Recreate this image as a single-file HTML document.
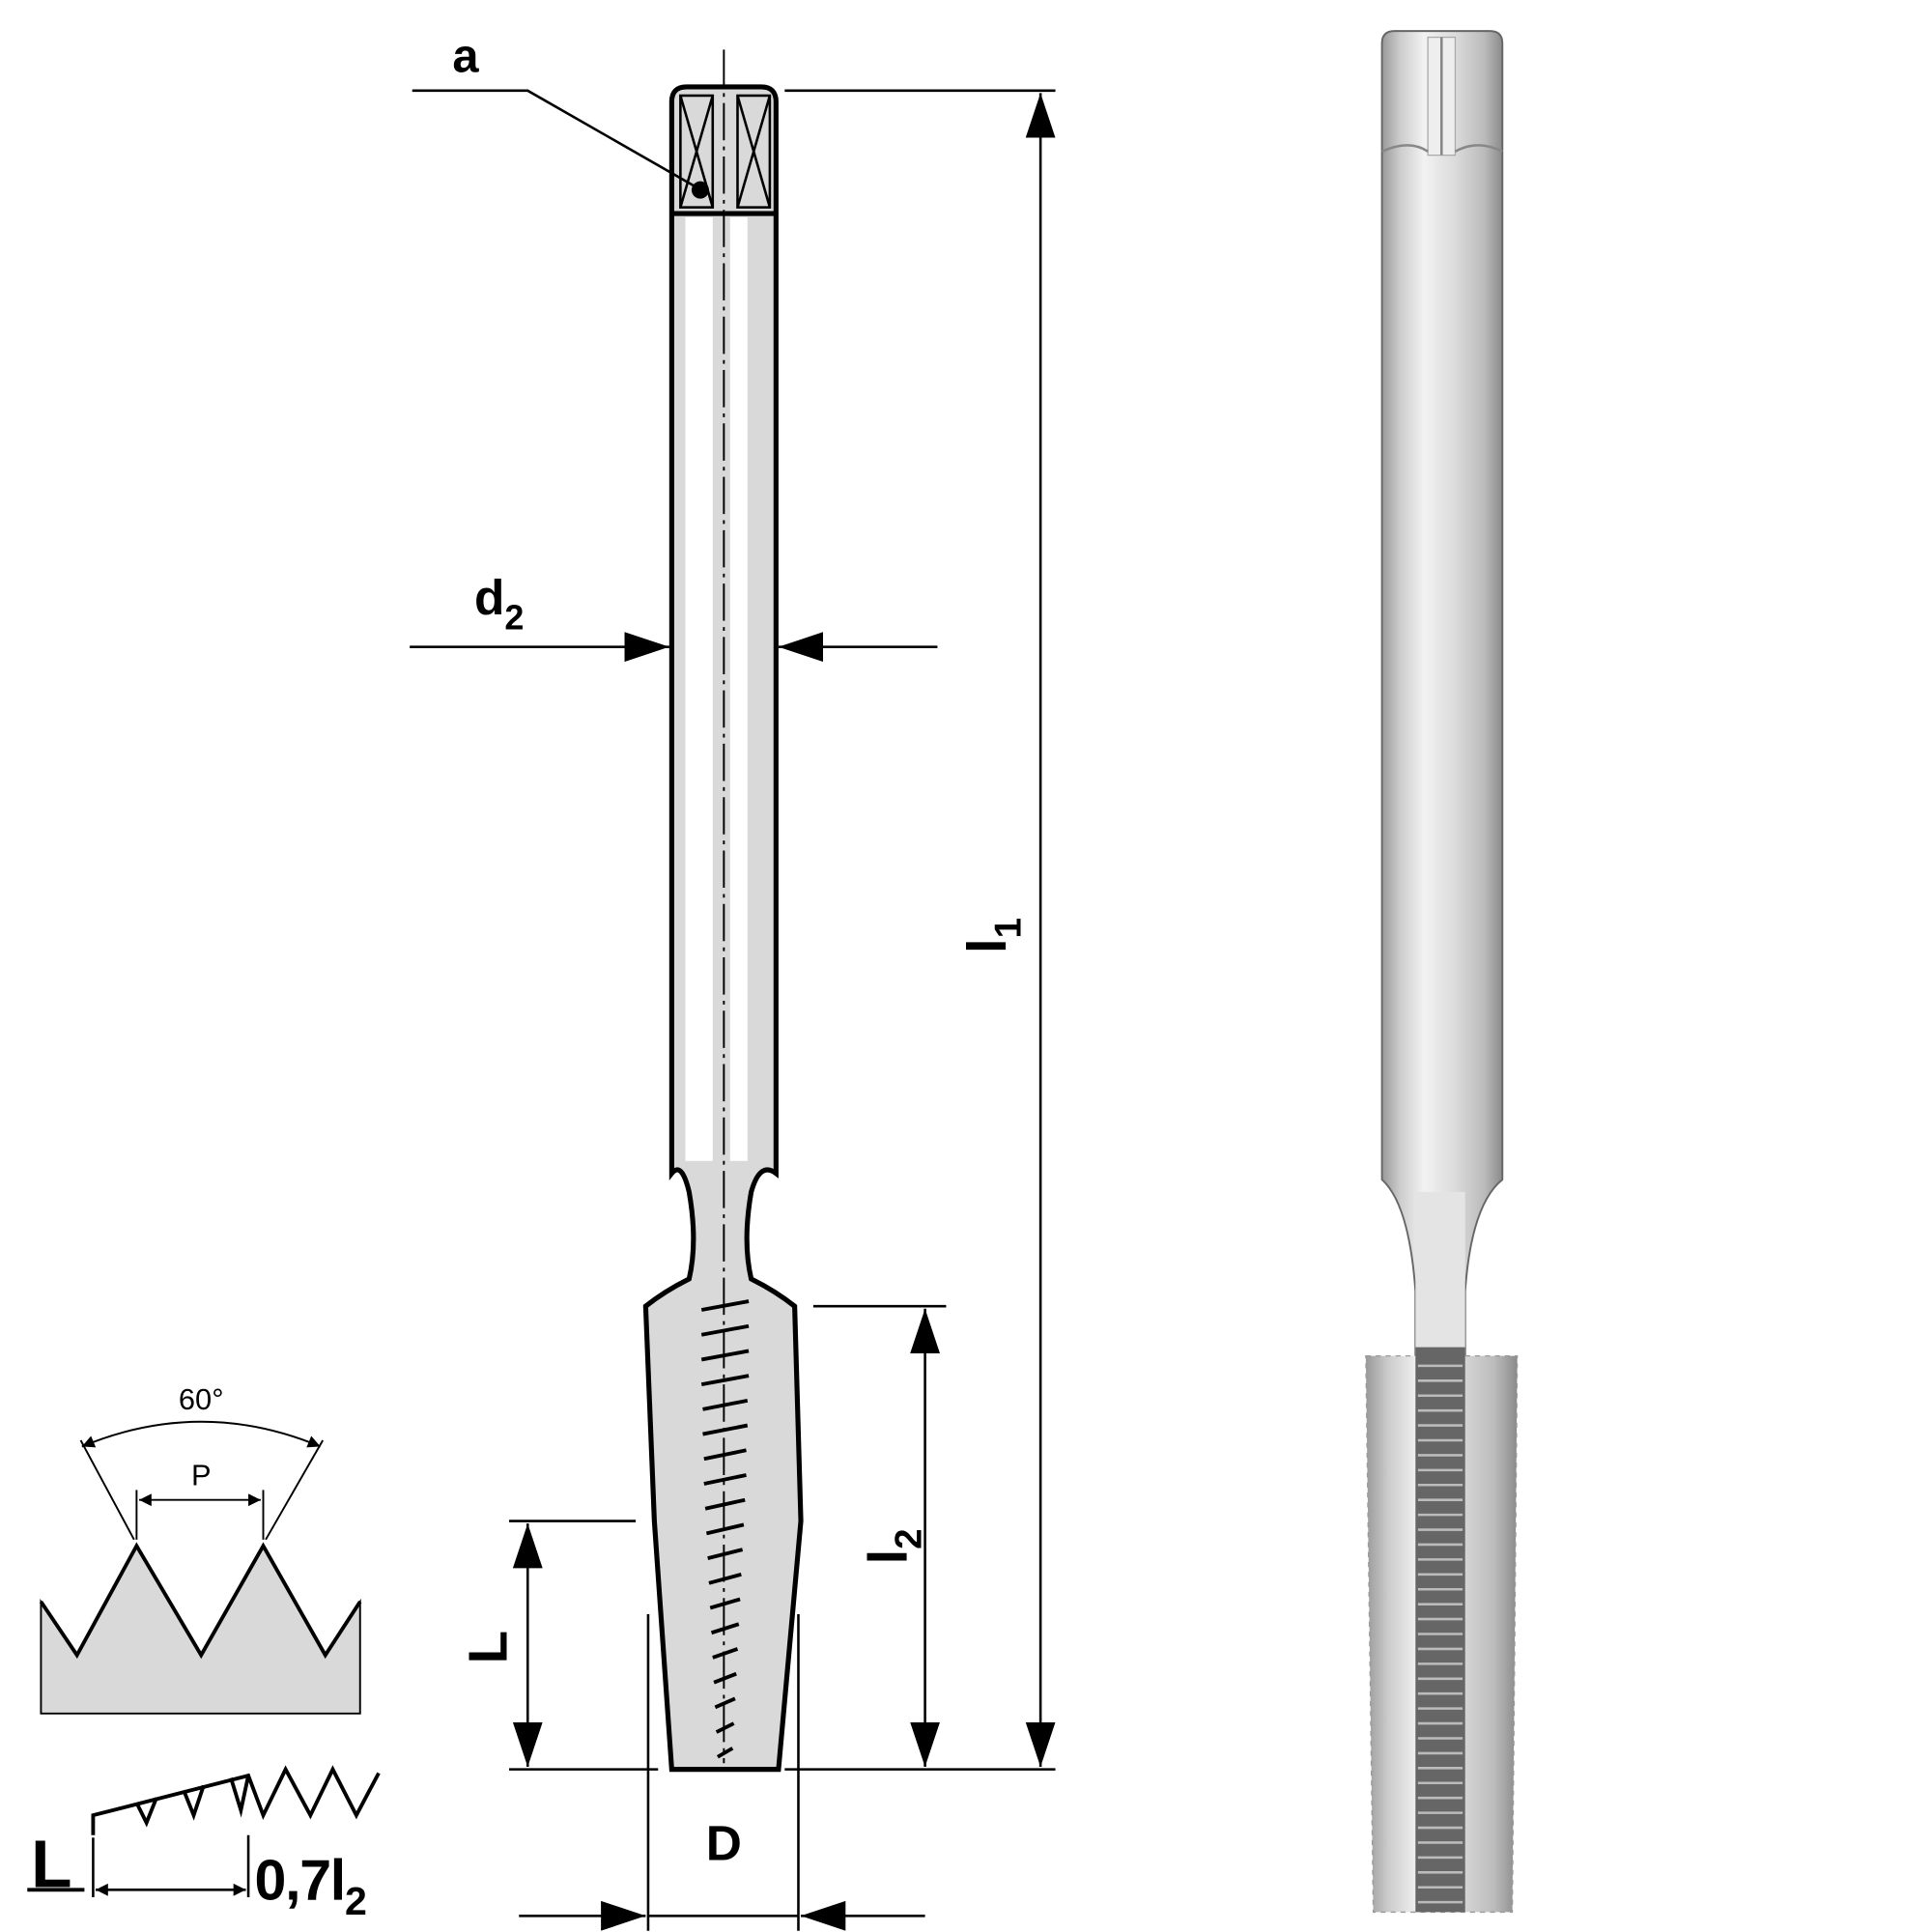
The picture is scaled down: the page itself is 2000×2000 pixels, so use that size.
<!DOCTYPE html>
<html><head><meta charset="utf-8"><style>html,body{margin:0;padding:0;background:#fff}svg{display:block}marker path{fill:#000}</style></head><body>
<svg width="2000" height="2000" viewBox="0 0 1556 1556" xmlns="http://www.w3.org/2000/svg" font-family="Liberation Sans, sans-serif" font-weight="bold">
<defs>
<linearGradient id="g" x1="0" x2="1">
<stop offset="0" stop-color="#999"/><stop offset="0.15" stop-color="#ccc"/><stop offset="0.35" stop-color="#f2f2f2"/><stop offset="0.6" stop-color="#dcdcdc"/><stop offset="0.85" stop-color="#bbb"/><stop offset="1" stop-color="#8a8a8a"/>
</linearGradient>
<marker id="ar" viewBox="0 0 36 24" refX="36" refY="12" markerWidth="36" markerHeight="24" orient="auto-start-reverse" markerUnits="userSpaceOnUse"><path d="M0,0 L36,12 L0,24z"/></marker>
<marker id="sa" viewBox="0 0 10 10" refX="10" refY="5" markerWidth="12" markerHeight="10" orient="auto-start-reverse" markerUnits="userSpaceOnUse"><path d="M0,0 L10,5 L0,10z"/></marker>
</defs>
<g stroke="#000" stroke-width="4" fill="#d9d9d9">
<path d="M541,82 Q541,70 553,70 L613,70 Q625,70 625,82 L625,945 Q612,935 605,960 Q598,1000 605,1030 Q625,1040 640,1052 L645,1225 L627,1425 L541,1425 L527,1225 L520,1052 Q535,1040 555,1030 Q562,1000 555,960 Q549,935 541,945 Z"/>
</g>
<rect x="552" y="175" width="22" height="760" fill="#fff"/>
<rect x="588" y="175" width="14" height="760" fill="#fff"/>
<line x1="541" y1="172" x2="625" y2="172" stroke="#000" stroke-width="4"/>
<g stroke="#000" stroke-width="2" fill="none">
<rect x="548" y="77" width="26" height="90"/><rect x="594" y="77" width="26" height="90"/>
<path d="M548,77 L574,167 M574,77 L548,167 M594,77 L620,167 M620,77 L594,167"/>
</g>
<line x1="583" y1="40" x2="583" y2="1420" stroke="#000" stroke-width="1.5" stroke-dasharray="30,5,3,5"/>
<g stroke="#000" stroke-width="3">
<path d="M565,1055 L603,1048 M565,1075 L603,1068 M565,1095 L603,1088 M565,1115 L603,1108 M566,1135 L602,1128 M566,1155 L602,1148 M567,1175 L601,1168 M567,1195 L601,1188 M568,1215 L600,1208 M569,1235 L599,1228 M570,1255 L598,1248 M571,1275 L597,1268 M572,1295 L596,1288 M573,1315 L595,1308 M574,1335 L594,1328 M575,1355 L593,1348 M576,1375 L592,1368 M577,1395 L591,1388 M578,1415 L590,1408"/>
</g>
<g stroke="#000" stroke-width="2" fill="none"><path d="M332,73 L425,73 L563,152"/></g>
<circle cx="564" cy="153" r="7"/>
<text x="375" y="58" font-size="38" text-anchor="middle">a</text>
<g stroke="#000" stroke-width="2" fill="none">
<line x1="632" y1="73" x2="850" y2="73"/><line x1="632" y1="1425" x2="850" y2="1425"/>
<line x1="838" y1="75" x2="838" y2="1423" marker-start="url(#ar)" marker-end="url(#ar)"/>
<line x1="655" y1="1052" x2="762" y2="1052"/>
<line x1="745" y1="1054" x2="745" y2="1423" marker-start="url(#ar)" marker-end="url(#ar)"/>
<line x1="410" y1="1225" x2="512" y2="1225"/><line x1="410" y1="1425" x2="530" y2="1425"/>
<line x1="425" y1="1227" x2="425" y2="1423" marker-start="url(#ar)" marker-end="url(#ar)"/>
<line x1="330" y1="521" x2="539" y2="521" marker-end="url(#ar)"/>
<line x1="755" y1="521" x2="627" y2="521" marker-end="url(#ar)"/>
<line x1="522" y1="1300" x2="522" y2="1555"/><line x1="643" y1="1300" x2="643" y2="1555"/>
<line x1="418" y1="1543" x2="520" y2="1543" marker-end="url(#ar)"/>
<line x1="745" y1="1543" x2="645" y2="1543" marker-end="url(#ar)"/>
<line x1="522" y1="1543" x2="643" y2="1543"/>
</g>
<text x="382" y="495" font-size="40">d<tspan font-size="28" dy="12">2</tspan></text>
<text x="583" y="1498" font-size="40" text-anchor="middle">D</text>
<text transform="translate(810,768) rotate(-90)" font-size="44">l<tspan font-size="30" dy="12">1</tspan></text>
<text transform="translate(730,1260) rotate(-90)" font-size="44">l<tspan font-size="30" dy="12">2</tspan></text>
<text transform="translate(408,1340) rotate(-90)" font-size="44">L</text>
<path d="M33,1290 L62,1333 L110,1245 L162,1333 L212,1245 L262,1333 L290,1290 L290,1380 L33,1380Z" fill="#d9d9d9" stroke="#000" stroke-width="1.5"/>
<path d="M33,1290 L62,1333 L110,1245 L162,1333 L212,1245 L262,1333 L290,1290" fill="none" stroke="#000" stroke-width="3"/>
<g stroke="#000" stroke-width="1.5" fill="none">
<line x1="108" y1="1240" x2="65" y2="1160"/><line x1="214" y1="1240" x2="260" y2="1160"/>
<path d="M66,1165 Q162,1125 258,1165" marker-start="url(#sa)" marker-end="url(#sa)"/>
<line x1="110" y1="1200" x2="110" y2="1240"/><line x1="212" y1="1200" x2="212" y2="1240"/>
<line x1="112" y1="1208" x2="210" y2="1208" marker-start="url(#sa)" marker-end="url(#sa)"/>
</g>
<text x="162" y="1135" font-size="24" font-weight="normal" text-anchor="middle">60°</text>
<text x="162" y="1196" font-size="24" font-weight="normal" text-anchor="middle">P</text>
<g stroke="#000" stroke-width="3" fill="none">
<path d="M75,1478 L75,1462 L200,1430 L212,1462 L230,1425 L250,1462 L268,1425 L287,1462 L305,1428"/>
<path d="M110,1452 L118,1468 L126,1448 M148,1442 L156,1462 L164,1438 M186,1432 L194,1458 L200,1430"/>
<line x1="22" y1="1522" x2="68" y2="1522"/>
</g>
<g stroke="#000" stroke-width="2" fill="none">
<line x1="75" y1="1480" x2="75" y2="1528"/><line x1="200" y1="1478" x2="200" y2="1528"/>
<line x1="77" y1="1522" x2="198" y2="1522" marker-start="url(#sa)" marker-end="url(#sa)"/>
</g>
<text x="25" y="1520" font-size="54">L</text>
<text x="205" y="1530" font-size="46" style="letter-spacing:-1px">0,7l<tspan font-size="32" dy="12">2</tspan></text>
<path d="M1113,35 Q1113,25 1123,25 L1200,25 Q1210,25 1210,35 L1210,950 Q1185,970 1180,1040 L1180,1095 L1140,1095 L1140,1040 Q1135,970 1113,950 Z" fill="url(#g)" stroke="#666" stroke-width="1.5"/>
<rect x="1140" y="960" width="40" height="135" fill="#e4e4e4"/>
<rect x="1150" y="30" width="22" height="95" fill="#eee" stroke="#aaa" stroke-width="1"/>
<line x1="1161" y1="30" x2="1161" y2="125" stroke="#888" stroke-width="2"/>
<path d="M1113,122 Q1135,112 1150,122 M1172,122 Q1190,112 1210,122" stroke="#888" stroke-width="2" fill="none"/>
<path d="M1100,1092 L1222,1092 L1218,1540 L1106,1540 Z" fill="url(#g)" stroke="#999" stroke-width="1" stroke-dasharray="4,4"/>
<rect x="1140" y="1085" width="40" height="455" fill="#666"/>
<g stroke="#bbb" stroke-width="2">
<path d="M1142,1100 H1178 M1142,1112 H1178 M1142,1124 H1178 M1142,1136 H1178 M1142,1148 H1178 M1142,1160 H1178 M1142,1172 H1178 M1142,1184 H1178 M1142,1196 H1178 M1142,1208 H1178 M1142,1220 H1178 M1142,1232 H1178 M1142,1244 H1178 M1142,1256 H1178 M1142,1268 H1178 M1142,1280 H1178 M1142,1292 H1178 M1142,1304 H1178 M1142,1316 H1178 M1142,1328 H1178 M1142,1340 H1178 M1142,1352 H1178 M1142,1364 H1178 M1142,1376 H1178 M1142,1388 H1178 M1142,1400 H1178 M1142,1412 H1178 M1142,1424 H1178 M1142,1436 H1178 M1142,1448 H1178 M1142,1460 H1178 M1142,1472 H1178 M1142,1484 H1178 M1142,1496 H1178 M1142,1508 H1178 M1142,1520 H1178 M1142,1532 H1178"/>
</g>
</svg>
</body></html>
